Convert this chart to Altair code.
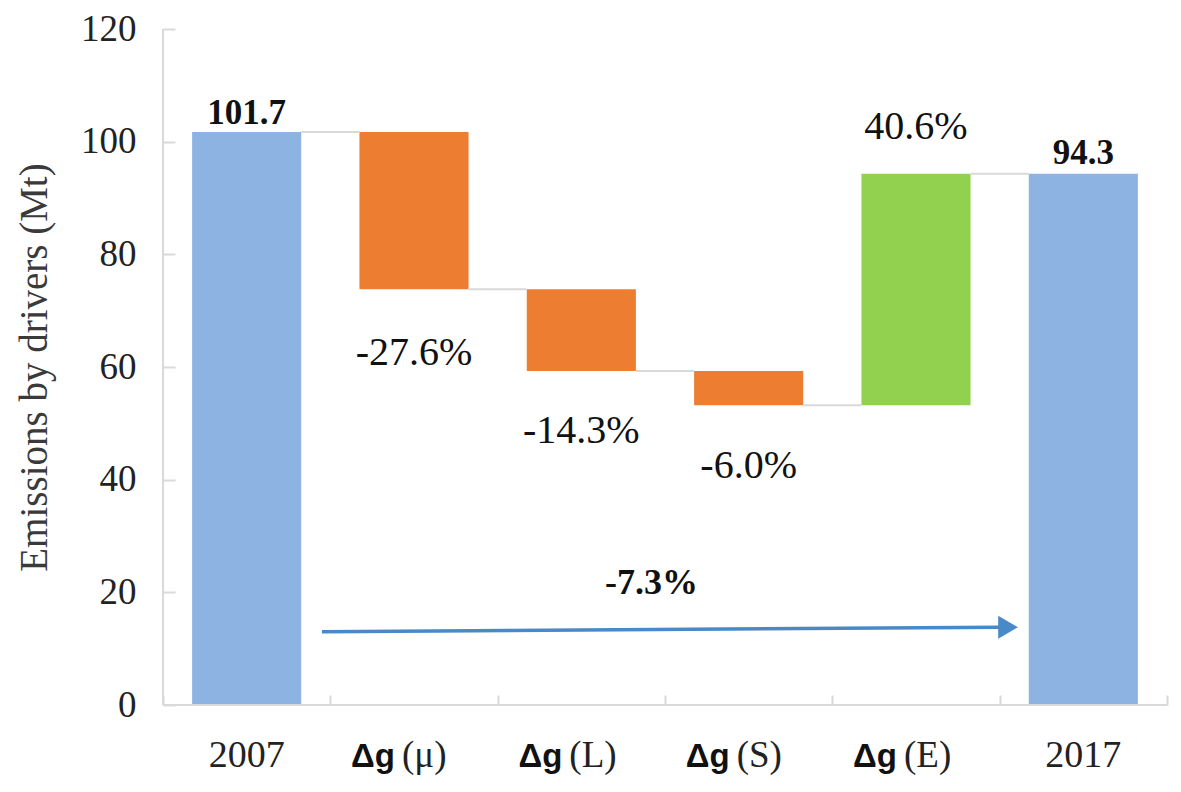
import altair as alt
import pandas as pd

# ---- data ----
categories = ["2007", "Δg (μ)", "Δg (L)", "Δg (S)", "Δg (E)", "2017"]
cat_bold = ["", "Δg", "Δg", "Δg", "Δg", ""]
cat_plain = ["2007", "(μ)", "(L)", "(S)", "(E)", "2017"]
bar_low = [0, 73.8, 59.3, 53.2, 53.2, 0]
bar_high = [101.7, 101.7, 73.8, 59.3, 94.3, 94.3]
bar_kind = ["total", "decrease", "decrease", "decrease", "increase", "total"]
value_text = ["101.7", "-27.6%", "-14.3%", "-6.0%", "40.6%", "94.3"]
value_y = [105.1, 62.5, 48.6, 42.4, 102.6, 98.0]
value_bold = [True, False, False, False, False, True]
connector_level = [101.7, 73.8, 59.3, 53.2, 94.3]
total_text = ["-7.3%"]
total_pos_x = [2.92]
total_pos_y = [21.7]
arrow_x = [0.95, 5.0]
arrow_y = [13.0, 13.8]
arrow_head_x = [5.05]
arrow_head_y = [13.8]

n = len(categories)
W, H = 1004, 676
SERIF = "Liberation Serif"
SANS = "Liberation Sans"
HALF = 0.326

bars = pd.DataFrame({"cat": categories, "idx": list(range(n)), "low": bar_low,
                     "high": bar_high, "kind": bar_kind})
vals = pd.DataFrame({"idx": list(range(n)), "text": value_text, "y": value_y, "bold": value_bold})
cats = pd.DataFrame({"idx": list(range(n)), "bold": cat_bold, "plain": cat_plain})
conn = pd.DataFrame({"idx": list(range(n - 1)), "level": connector_level})
tot = pd.DataFrame({"x": total_pos_x, "y": total_pos_y, "text": total_text})
arrow = pd.DataFrame({"x": [arrow_x[0]], "x2": [arrow_x[1]], "y": [arrow_y[0]], "y2": [arrow_y[1]]})
head = pd.DataFrame({"x": arrow_head_x, "y": arrow_head_y})
axes_lines = pd.DataFrame({"x": [0, 0], "x2": [0, n], "y": [0, 0], "y2": [120, 0]})

xs = alt.Scale(domain=[0, n], nice=False, zero=False)
ys = alt.Scale(domain=[0, 120], nice=False)

x_axis = alt.Axis(values=list(range(n + 1)), labels=False, tickSize=10, offset=-10,
                  domain=False, grid=False, tickColor="#d9d9d9", tickWidth=2, title=None)
y_axis = alt.Axis(values=list(range(0, 121, 20)), tickSize=12, offset=-12, domain=False,
                  grid=False, tickColor="#d9d9d9", tickWidth=2, labelFont=SERIF,
                  labelFontSize=37, labelColor="#222222", labelPadding=27,
                  title="Emissions by drivers (Mt)", titleFont=SERIF, titleFontSize=39,
                  titleFontWeight="normal", titleColor="#3a3a3a", titlePadding=26)

bar_layer = alt.Chart(bars).transform_calculate(
    x0=f"datum.idx + 0.5 - {HALF}", x1=f"datum.idx + 0.5 + {HALF}"
).mark_bar().encode(
    x=alt.X("x0:Q", scale=xs, axis=x_axis), x2="x1:Q",
    y=alt.Y("low:Q", scale=ys, axis=y_axis), y2="high:Q",
    color=alt.Color("kind:N", scale=alt.Scale(domain=["total", "decrease", "increase"],
                                              range=["#8db3e2", "#ed7d31", "#92d050"]),
                    legend=None)
)

connectors = alt.Chart(conn).transform_calculate(
    xa=f"datum.idx + 0.5 + {HALF}", xb=f"datum.idx + 1.5 - {HALF}"
).mark_rule(color="#d9d9d9", strokeWidth=2).encode(
    x=alt.X("xa:Q", scale=xs), x2="xb:Q",
    y=alt.Y("level:Q", scale=ys)
)

axis_rules = alt.Chart(axes_lines).mark_rule(color="#d9d9d9", strokeWidth=2).encode(
    x=alt.X("x:Q", scale=xs), x2="x2:Q",
    y=alt.Y("y:Q", scale=ys), y2="y2:Q"
)

val_bold = alt.Chart(vals).transform_filter("datum.bold").transform_calculate(
    xc="datum.idx + 0.5"
).mark_text(font=SERIF, fontSize=35, fontWeight="bold", color="#111111", baseline="middle").encode(
    x=alt.X("xc:Q", scale=xs), y=alt.Y("y:Q", scale=ys), text="text:N"
)
val_plain = alt.Chart(vals).transform_filter("!datum.bold").transform_calculate(
    xc="datum.idx + 0.5"
).mark_text(font=SERIF, fontSize=40, color="#111111", baseline="middle").encode(
    x=alt.X("xc:Q", scale=xs), y=alt.Y("y:Q", scale=ys), text="text:N"
)

year_labels = alt.Chart(cats).transform_filter("datum.bold == ''").transform_calculate(
    xc="datum.idx + 0.5"
).mark_text(font=SERIF, fontSize=38, color="#222222", baseline="alphabetic").encode(
    x=alt.X("xc:Q", scale=xs), y=alt.datum(-11.0), text="plain:N"
)
dg_labels = alt.Chart(cats).transform_filter("datum.bold != ''").transform_calculate(
    xc="datum.idx + 0.5"
).mark_text(font=SANS, fontSize=33, fontWeight="bold", color="#111111",
            baseline="alphabetic", align="right", dx=-19).encode(
    x=alt.X("xc:Q", scale=xs), y=alt.datum(-11.0), text="bold:N"
)
paren_labels = alt.Chart(cats).transform_filter("datum.bold != ''").transform_calculate(
    xc="datum.idx + 0.5"
).mark_text(font=SERIF, fontSize=37, color="#222222",
            baseline="alphabetic", align="left", dx=-12).encode(
    x=alt.X("xc:Q", scale=xs), y=alt.datum(-11.0), text="plain:N"
)

total_label = alt.Chart(tot).mark_text(font=SERIF, fontSize=36, fontWeight="bold",
                                       color="#111111", baseline="middle").encode(
    x=alt.X("x:Q", scale=xs), y=alt.Y("y:Q", scale=ys), text="text:N"
)

arrow_line = alt.Chart(arrow).mark_rule(color="#4a89c8", strokeWidth=3.5).encode(
    x=alt.X("x:Q", scale=xs), x2="x2:Q",
    y=alt.Y("y:Q", scale=ys), y2="y2:Q"
)
arrow_head = alt.Chart(head).mark_point(shape="triangle-right", filled=True, size=520,
                                        color="#4a89c8", opacity=1).encode(
    x=alt.X("x:Q", scale=xs), y=alt.Y("y:Q", scale=ys)
)

chart = alt.layer(
    bar_layer, connectors, axis_rules, val_bold, val_plain, year_labels, dg_labels,
    paren_labels, total_label, arrow_line, arrow_head
).properties(
    width=W, height=H,
    autosize=alt.AutoSizeParams(type="none"),
    padding={"left": 155, "top": 21, "right": 6, "bottom": 79},
    background="white",
).configure_view(stroke=None)

chart.save("out.html", embed_options={"renderer": "svg", "actions": False})
